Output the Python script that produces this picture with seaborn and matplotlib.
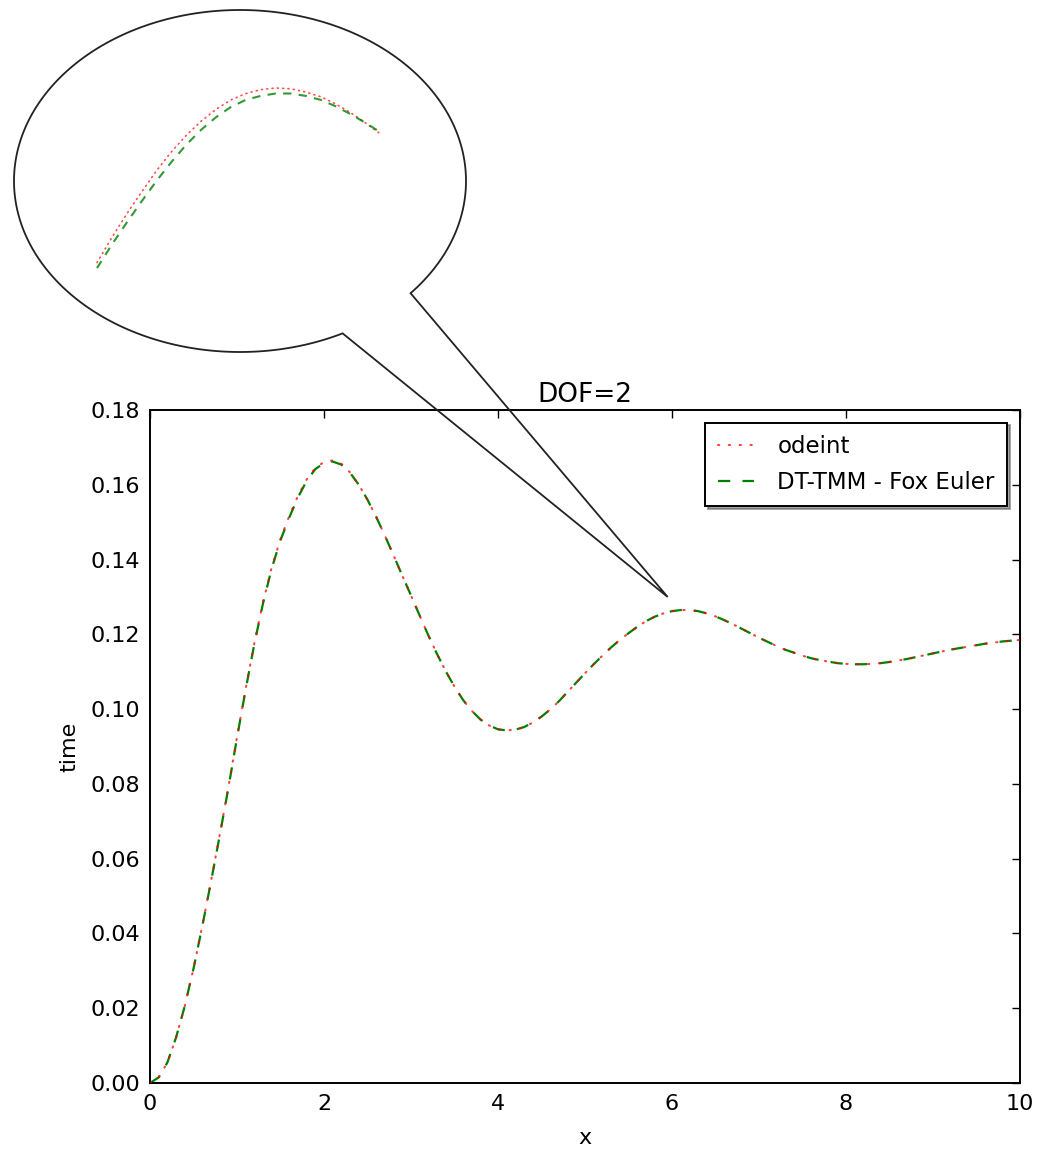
import numpy as np
import matplotlib
matplotlib.use("Agg")
import matplotlib.pyplot as plt
import seaborn as sns
from matplotlib.path import Path
from matplotlib.patches import PathPatch

# ---------------- data ----------------
x = [0.0, 0.1, 0.2, 0.3, 0.4, 0.5, 0.6, 0.7, 0.8, 0.9,
     1.0, 1.1, 1.2, 1.3, 1.4, 1.5, 1.6, 1.7, 1.8, 1.9,
     2.0, 2.1, 2.2, 2.3, 2.4, 2.5, 2.6, 2.7, 2.8, 2.9,
     3.0, 3.1, 3.2, 3.3, 3.4, 3.5, 3.6, 3.7, 3.8, 3.9,
     4.0, 4.1, 4.2, 4.3, 4.4, 4.5, 4.6, 4.7, 4.8, 4.9,
     5.0, 5.1, 5.2, 5.3, 5.4, 5.5, 5.6, 5.7, 5.8, 5.9,
     6.0, 6.1, 6.2, 6.3, 6.4, 6.5, 6.6, 6.7, 6.8, 6.9,
     7.0, 7.1, 7.2, 7.3, 7.4, 7.5, 7.6, 7.7, 7.8, 7.9,
     8.0, 8.1, 8.2, 8.3, 8.4, 8.5, 8.6, 8.7, 8.8, 8.9,
     9.0, 9.1, 9.2, 9.3, 9.4, 9.5, 9.6, 9.7, 9.8, 9.9, 10.0]
odeint = [0.0000, 0.0015, 0.0055, 0.0122, 0.0206, 0.0306, 0.0419, 0.0538, 0.0662, 0.0790,
          0.0925, 0.1055, 0.1177, 0.1287, 0.1380, 0.1455, 0.1516, 0.1570, 0.1614, 0.1645,
          0.1661, 0.1665, 0.1656, 0.1633, 0.1600, 0.1560, 0.1514, 0.1464, 0.1411, 0.1357,
          0.1304, 0.1250, 0.1197, 0.1147, 0.1101, 0.1060, 0.1024, 0.0995, 0.0972, 0.0956,
          0.0946, 0.0943, 0.0945, 0.0952, 0.0964, 0.0980, 0.0999, 0.1021, 0.1046, 0.1071,
          0.1096, 0.1120, 0.1143, 0.1165, 0.1185, 0.1203, 0.1220, 0.1235, 0.1247, 0.1256,
          0.1262, 0.1265, 0.1265, 0.1262, 0.1256, 0.1248, 0.1238, 0.1227, 0.1215, 0.1203,
          0.1191, 0.1180, 0.1169, 0.1159, 0.1151, 0.1143, 0.1136, 0.1131, 0.1127, 0.1123,
          0.1121, 0.1120, 0.1120, 0.1121, 0.1123, 0.1126, 0.1130, 0.1134, 0.1139, 0.1144,
          0.1149, 0.1154, 0.1159, 0.1163, 0.1167, 0.1171, 0.1175, 0.1178, 0.1181, 0.1183, 0.1185]
dttmm = [0.0000, 0.0015, 0.0055, 0.0122, 0.0206, 0.0306, 0.0418, 0.0537, 0.0660, 0.0788,
         0.0923, 0.1053, 0.1175, 0.1284, 0.1377, 0.1452, 0.1512, 0.1566, 0.1610, 0.1642,
         0.1658, 0.1662, 0.1654, 0.1632, 0.1600, 0.1560, 0.1514, 0.1464, 0.1411, 0.1357,
         0.1304, 0.1250, 0.1197, 0.1147, 0.1101, 0.1060, 0.1024, 0.0995, 0.0972, 0.0956,
         0.0946, 0.0943, 0.0945, 0.0952, 0.0964, 0.0980, 0.0999, 0.1021, 0.1046, 0.1071,
         0.1096, 0.1120, 0.1143, 0.1165, 0.1185, 0.1203, 0.1220, 0.1235, 0.1247, 0.1256,
         0.1262, 0.1265, 0.1265, 0.1262, 0.1256, 0.1248, 0.1238, 0.1227, 0.1215, 0.1203,
         0.1191, 0.1180, 0.1169, 0.1159, 0.1151, 0.1143, 0.1136, 0.1131, 0.1127, 0.1123,
         0.1121, 0.1120, 0.1120, 0.1121, 0.1123, 0.1126, 0.1130, 0.1134, 0.1139, 0.1144,
         0.1149, 0.1154, 0.1159, 0.1163, 0.1167, 0.1171, 0.1175, 0.1178, 0.1181, 0.1183, 0.1185]

# zoomed view shown in the callout bubble (first peak)
zoom_x = [1.50, 1.55, 1.60, 1.65, 1.70, 1.75, 1.80, 1.85, 1.90, 1.95, 2.00,
          2.05, 2.10, 2.15, 2.20, 2.25, 2.30, 2.35, 2.40, 2.45]
zoom_odeint = [0.1444, 0.1476, 0.1506, 0.1534, 0.1561, 0.1585, 0.1606, 0.1624,
               0.1639, 0.1651, 0.1659, 0.1664, 0.1666, 0.1665, 0.1661, 0.1655,
               0.1646, 0.1635, 0.1622, 0.1608]
zoom_dttmm = [0.1437, 0.1467, 0.1495, 0.1522, 0.1548, 0.1572, 0.1594, 0.1613,
              0.1629, 0.1642, 0.1651, 0.1656, 0.1659, 0.1659, 0.1656, 0.1651,
              0.1643, 0.1633, 0.1622, 0.1610]

title = "DOF=2"
xlabel = "x"
ylabel = "time"
labels = ["odeint", "DT-TMM - Fox Euler"]
xticks = [0, 2, 4, 6, 8, 10]
yticks = [0.00, 0.02, 0.04, 0.06, 0.08, 0.10, 0.12, 0.14, 0.16, 0.18]

# ---------------- style ----------------
sns.set_style("white")
plt.rcParams.update({
    "font.family": ["DejaVu Sans"],
    "font.size": 16,
    "text.color": "black",
    "axes.labelcolor": "black",
    "axes.titlecolor": "black",
    "axes.linewidth": 1.4,
    "axes.edgecolor": "black",
    "xtick.direction": "in",
    "ytick.direction": "in",
    "xtick.top": True,
    "ytick.right": True,
    "xtick.major.size": 6,
    "ytick.major.size": 6,
    "xtick.major.width": 1.0,
    "ytick.major.width": 1.0,
    "xtick.color": "black",
    "ytick.color": "black",
    "xtick.labelsize": 16,
    "ytick.labelsize": 16,
    "xtick.major.pad": 8,
    "ytick.major.pad": 7,
})

W, H = 1043, 1152
fig = plt.figure(figsize=(W / 100, H / 100), dpi=100, facecolor="white")

def fx(px):
    return px / W

def fy(py):
    return 1 - py / H

ax = fig.add_axes([fx(150), fy(1083), fx(1020) - fx(150), fy(410) - fy(1083)])

sns.lineplot(x=x, y=odeint, ax=ax, color="red", linestyle=":", linewidth=1.5,
             label=labels[0], legend=False)
sns.lineplot(x=x, y=dttmm, ax=ax, color="green", linestyle="--", linewidth=1.6,
             label=labels[1], legend=False)
ax.lines[0].set_dashes((0.6, 4.6))
ax.lines[0].set_dash_capstyle("round")
ax.lines[0].set_alpha(0.75)
ax.lines[1].set_dashes((5.5, 5.5))
ax.lines[0].set_zorder(3)

ax.set_xlim(0, 10)
ax.set_ylim(0, 0.18)
ax.set_xticks(xticks)
ax.set_yticks(yticks)
ax.set_xticklabels([str(t) for t in xticks])
ax.set_yticklabels([f"{t:.2f}" for t in yticks])
ax.set_title(title, fontsize=19, pad=6)
ax.set_xlabel(xlabel, fontsize=16, labelpad=10)
ax.set_ylabel(ylabel, fontsize=16, labelpad=8)
for s in ax.spines.values():
    s.set_visible(True)

leg = ax.legend(loc="upper right", fontsize=16.5, frameon=True, fancybox=False,
                shadow=True, edgecolor="black", framealpha=1,
                handlelength=1.6, handletextpad=1.0, borderpad=0.55,
                labelspacing=0.55, borderaxespad=0.55)
leg.get_frame().set_linewidth(1.4)

# ---------------- callout bubble ----------------
fig.canvas.draw()
tip_disp = ax.transData.transform((5.95, 0.13))
tip_fig = fig.transFigure.inverted().transform(tip_disp)

cx, cy = 240, 181
rx, ry = 226, 171
t = np.deg2rad(np.linspace(63, 401, 400))
ex = fx(cx + rx * np.cos(t))
ey = fy(cy + ry * np.sin(t))
verts = list(zip(ex, ey)) + [tuple(tip_fig), (ex[0], ey[0])]
codes = [Path.MOVETO] + [Path.LINETO] * (len(verts) - 2) + [Path.CLOSEPOLY]
bubble = PathPatch(Path(verts, codes), transform=fig.transFigure,
                   facecolor="none", edgecolor="#222222", linewidth=1.3,
                   zorder=10)
fig.patches.append(bubble)

# zoomed curves inside the bubble
yl_top = 0.1666 + 3 / 7867
yl_bot = 0.1666 - 182 / 7867
axz = fig.add_axes([fx(97), fy(270), fx(380) - fx(97), fy(85) - fy(270)])
sns.lineplot(x=zoom_x, y=zoom_odeint, ax=axz, color="red", linestyle=":",
             linewidth=1.2, legend=False)
sns.lineplot(x=zoom_x, y=zoom_dttmm, ax=axz, color="green", linestyle="--",
             linewidth=1.5, legend=False)
axz.lines[0].set_dashes((0.6, 2.6))
axz.lines[0].set_dash_capstyle("round")
axz.lines[0].set_alpha(0.7)
axz.lines[1].set_dashes((4.0, 3.5))
axz.lines[1].set_alpha(0.8)
axz.set_xlim(1.5, 2.45)
axz.set_ylim(yl_bot, yl_top)
axz.set_axis_off()
axz.patch.set_alpha(0)
for ln in axz.lines:
    ln.set_clip_on(False)

fig.savefig("out.png", dpi=100, facecolor="white")
